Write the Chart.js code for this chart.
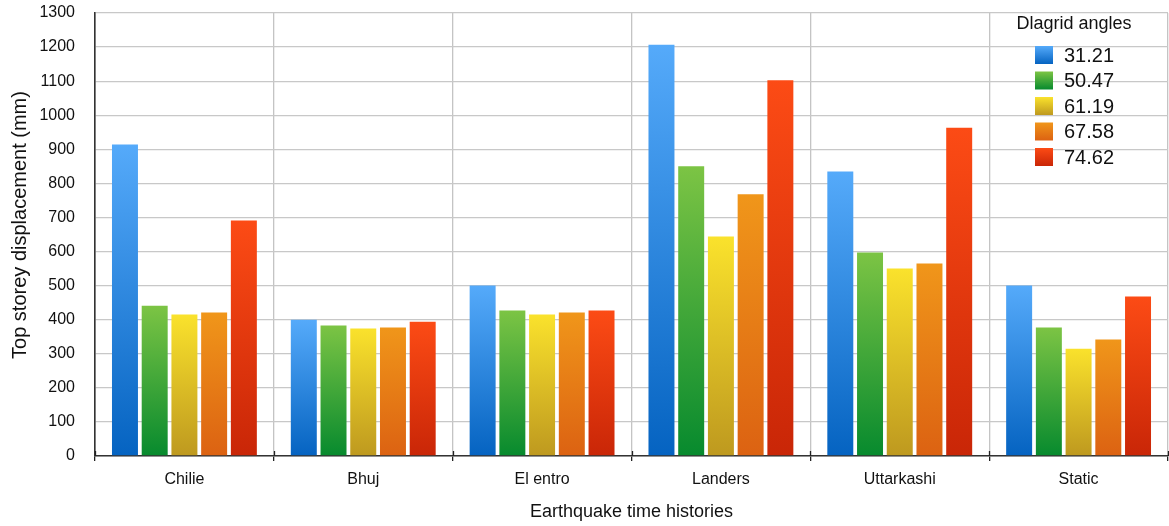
<!DOCTYPE html>
<html>
<head>
<meta charset="utf-8">
<script src="https://cdn.jsdelivr.net/npm/chart.js@4.4.1/dist/chart.umd.min.js"></script>
<style>
  body { margin: 0; background: #fff; }
</style>
</head>
<body>
<canvas id="dispChart" width="1169" height="526"></canvas>
<script>
// data
const categories = ['Chilie', 'Bhuj', 'El entro', 'Landers', 'Uttarkashi', 'Static'];
const angleLabels = ['31.21', '50.47', '61.19', '67.58', '74.62'];
const angle3121 = [914, 400, 500, 1207, 835, 500];
const angle5047 = [441, 383, 427, 850, 597, 377];
const angle6119 = [415, 374, 415, 644, 550, 315];
const angle6758 = [421, 377, 421, 768, 565, 342];
const angle7462 = [691, 394, 427, 1103, 963, 468];
const yTicks = [0, 100, 200, 300, 400, 500, 600, 700, 800, 900, 1000, 1100, 1200, 1300];

// top / bottom colour of each bar's gradient
const gradientStops = [
    ['#55aafa', '#0563c1'],
    ['#7cc444', '#078a2e'],
    ['#fae22c', '#be991f'],
    ['#f0961a', '#dc6212'],
    ['#fc4b15', '#c92607']
];

const FONT = "'Liberation Sans', Arial, Helvetica, sans-serif";
const TEXT = '#111111';

function barGradient(stops) {
    return function (context) {
        const chart = context.chart;
        if (!chart.chartArea || context.type !== 'data') return stops[1];
        const yScale = chart.scales.y;
        const top = yScale.getPixelForValue(context.parsed.y);
        const bottom = yScale.getPixelForValue(0);
        const g = chart.ctx.createLinearGradient(0, top, 0, bottom);
        g.addColorStop(0, stops[0]);
        g.addColorStop(1, stops[1]);
        return g;
    };
}

// legend inside the plot (top right), y title, and the tick stubs above the x axis
const insideLegend = {
    id: 'insideLegend',
    afterDraw(chart) {
        const ctx = chart.ctx;
        const area = chart.chartArea;
        const xScale = chart.scales.x;
        ctx.save();
        ctx.strokeStyle = '#222';
        ctx.lineWidth = 1.3;
        for (let i = 0; i <= categories.length; i++) {
            const px = Math.round(xScale.getPixelForValue(i - 0.5)) + 0.5;
            ctx.beginPath();
            ctx.moveTo(px, area.bottom - 5);
            ctx.lineTo(px, area.bottom);
            ctx.stroke();
        }

        // y axis title
        ctx.fillStyle = TEXT;
        ctx.textBaseline = 'middle';
        ctx.textAlign = 'center';
        ctx.font = '20px ' + FONT;
        ctx.save();
        ctx.translate(20, 225);
        ctx.rotate(-Math.PI / 2);
        ctx.fillText('Top storey displacement (mm)', 0, 0);
        ctx.restore();

        ctx.font = '18px ' + FONT;
        ctx.fillText('Dlagrid angles', area.right - 94, 24);
        ctx.font = '20px ' + FONT;
        ctx.textAlign = 'left';
        chart.data.datasets.forEach(function (ds, i) {
            const x = area.right - 133;
            const y = 46 + i * 25.5;
            const g = ctx.createLinearGradient(0, y, 0, y + 18);
            g.addColorStop(0, gradientStops[i][0]);
            g.addColorStop(1, gradientStops[i][1]);
            ctx.fillStyle = g;
            ctx.fillRect(x, y, 18, 18);
            ctx.fillStyle = TEXT;
            ctx.fillText(ds.label, x + 29, y + 10);
        });
        ctx.restore();
    }
};

const seriesValues = [angle3121, angle5047, angle6119, angle6758, angle7462];

const dispChart = new Chart(document.getElementById('dispChart').getContext('2d'), {
    type: 'bar',
    data: {
        labels: categories,
        datasets: seriesValues.map(function (vals, i) {
            return {
                label: angleLabels[i],
                data: vals,
                backgroundColor: barGradient(gradientStops[i]),
                borderWidth: 0,
                categoryPercentage: 0.831,
                barPercentage: 0.874
            };
        })
    },
    options: {
        responsive: false,
        devicePixelRatio: 1,
        animation: false,
        events: [],
        layout: { padding: { top: 13, right: 1, left: 0, bottom: 0 } },
        plugins: {
            legend: { display: false },
            tooltip: { enabled: false }
        },
        scales: {
            x: {
                grid: {
                    color: '#c4c4c4',
                    lineWidth: 1.3,
                    offset: true,
                    tickLength: 5,
                    tickColor: '#222'
                },
                border: { color: '#333', width: 1.6 },
                ticks: {
                    color: TEXT,
                    font: { family: FONT, size: 16 },
                    padding: 9,
                    maxRotation: 0
                },
                title: {
                    display: true,
                    text: 'Earthquake time histories',
                    color: TEXT,
                    font: { family: FONT, size: 18 },
                    padding: { top: 4, bottom: 3 }
                },
                afterFit(scale) {
                    scale.height = 70;
                    scale.paddingLeft = 0;
                    scale.paddingRight = 0;
                }
            },
            y: {
                min: 0,
                max: 1300,
                afterBuildTicks(scale) {
                    scale.ticks = yTicks.map(function (v) { return { value: v }; });
                },
                grid: { color: '#c8c8c8', lineWidth: 1.3, drawTicks: false },
                border: { color: '#333', width: 1.6 },
                ticks: {
                    color: TEXT,
                    font: { family: FONT, size: 16 },
                    padding: 20,
                    callback: function (v) { return String(v); }
                },
                title: { display: false },
                afterFit(scale) {
                    scale.width = 95;
                    scale.paddingTop = 0;
                    scale.paddingBottom = 0;
                }
            }
        }
    },
    plugins: [insideLegend]
});
</script>
</body>
</html>
